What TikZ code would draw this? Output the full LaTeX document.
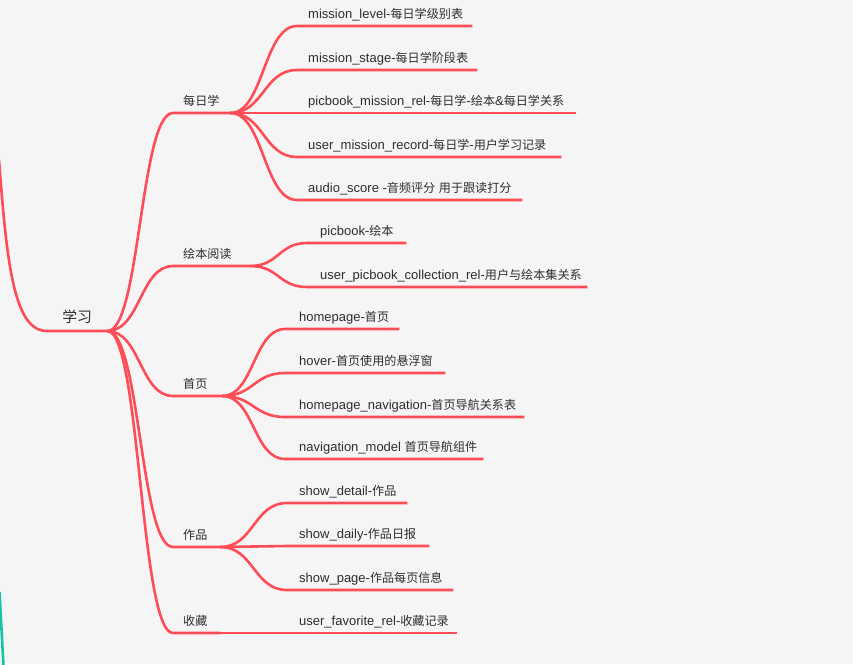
\documentclass[tikz,border=0pt]{standalone}
\usepackage{fontspec}
\setmainfont{Liberation Sans}
\newfontfamily\cjk[Scale=0.93]{Noto Sans CJK SC}
\usetikzlibrary{calc}
\definecolor{mmred}{RGB}{255,77,87}
\definecolor{bg}{RGB}{245,245,245}
\definecolor{txt}{RGB}{45,45,50}
\definecolor{tealline}{RGB}{20,195,170}
\newcommand{\tx}[3]{\makebox[#1pt][l]{\hspace*{#2pt}#3}}
\newcommand{\zh}[1]{{\cjk #1}}
\tikzset{
  conn/.style={draw=mmred, line width=2.6pt},
  mm/.style={to path={let \p1=(\tikztostart), \p2=(\tikztotarget) in
     .. controls ({(\x1+\x2)/2},\y1) and ({(\x1+\x2)/2},\y2) .. (\tikztotarget)}},
  leaf/.style={anchor=south west, inner sep=0pt, minimum height=22pt,
     text height=0.88em, text depth=0.12em,
     font=\fontsize{13}{15}\selectfont, text=txt},
  rootnode/.style={anchor=south west, inner sep=0pt, minimum height=25pt, minimum width=60pt,
     text height=0.88em, text depth=0.12em,
     font=\fontsize{16}{18}\selectfont, text=txt}
}
\begin{document}
\begin{tikzpicture}[x=1pt,y=-1pt]
\fill[bg] (0,0) rectangle (853,664);
\useasboundingbox (0,0) rectangle (853,664);

% root
\node[rootnode] (root) at (47,331) {\zh{学习}};
% branches
\node[leaf] (b1) at (173,113) {\tx{57}{10}{\zh{每日学}}};
\node[leaf] (b2) at (173,266) {\tx{77}{10}{\zh{绘本阅读}}};
\node[leaf] (b3) at (173,396) {\tx{49}{10}{\zh{首页}}};
\node[leaf] (b4) at (173,547) {\tx{47}{10}{\zh{作品}}};
\node[leaf] (b5) at (173,633) {\tx{47}{10}{\zh{收藏}}};
% leaves of 每日学
\node[leaf] (l11) at (297,26)  {\tx{175}{11}{mission\_level-\zh{每日学级别表}}};
\node[leaf] (l12) at (297,70)  {\tx{180}{11}{mission\_stage-\zh{每日学阶段表}}};
\node[leaf] (l13) at (297,113) {\tx{279}{11}{picbook\_mission\_rel-\zh{每日学}-\zh{绘本}\&\zh{每日学关系}}};
\node[leaf] (l14) at (297,157) {\tx{264}{11}{user\_mission\_record-\zh{每日学}-\zh{用户学习记录}}};
\node[leaf] (l15) at (297,200) {\tx{225}{11}{audio\_score -\zh{音频评分} \zh{用于跟读打分}}};
% leaves of 绘本阅读
\node[leaf] (l21) at (307,243) {\tx{99}{13}{picbook-\zh{绘本}}};
\node[leaf] (l22) at (307,287) {\tx{280}{13}{user\_picbook\_collection\_rel-\zh{用户与绘本集关系}}};
% leaves of 首页
\node[leaf] (l31) at (285,329) {\tx{114}{14}{homepage-\zh{首页}}};
\node[leaf] (l32) at (285,373) {\tx{160}{14}{hover-\zh{首页使用的悬浮窗}}};
\node[leaf] (l33) at (285,417) {\tx{239}{14}{homepage\_navigation-\zh{首页导航关系表}}};
\node[leaf] (l34) at (285,459) {\tx{198}{14}{navigation\_model \zh{首页导航组件}}};
% leaves of 作品
\node[leaf] (l41) at (287,503) {\tx{120}{12}{show\_detail-\zh{作品}}};
\node[leaf] (l42) at (287,546) {\tx{142}{12}{show\_daily-\zh{作品日报}}};
\node[leaf] (l43) at (287,590) {\tx{166}{12}{show\_page-\zh{作品每页信息}}};
% leaf of 收藏
\node[leaf] (l51) at (287,633) {\tx{170}{12}{user\_favorite\_rel-\zh{收藏记录}}};

% incoming curve from off-page parent
\coordinate (offparent) at (-1,160);
\draw[conn] (offparent) .. controls (7,265) and (14,331) .. (root.south west) -- (root.south east);

% teal line at lower left
\coordinate (t1) at (-0.5,592);
\coordinate (t2) at (3.5,666);
\draw[draw=tealline, line width=2.6pt] (t1) -- (t2);

% root to branches
\foreach \b in {b1,b2,b3,b4,b5}
  \draw[conn] (root.south east) to[mm] (\b.south west) -- (\b.south east);
% branches to leaves
\foreach \l in {l11,l12,l13,l14,l15}
  \draw[conn] (b1.south east) to[mm] (\l.south west) -- (\l.south east);
\foreach \l in {l21,l22}
  \draw[conn] (b2.south east) to[mm] (\l.south west) -- (\l.south east);
\foreach \l in {l31,l32,l33,l34}
  \draw[conn] (b3.south east) to[mm] (\l.south west) -- (\l.south east);
\foreach \l in {l41,l42,l43}
  \draw[conn] (b4.south east) to[mm] (\l.south west) -- (\l.south east);
\draw[conn] (b5.south east) -- (l51.south west) -- (l51.south east);
\end{tikzpicture}
\end{document}
